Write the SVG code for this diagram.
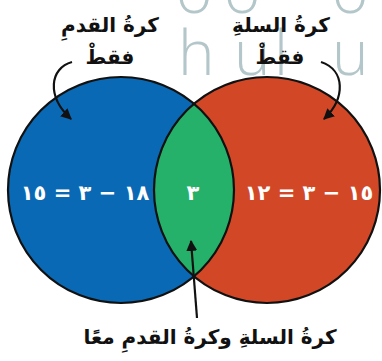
<svg xmlns="http://www.w3.org/2000/svg" width="382" height="361" viewBox="0 0 382 361">
<style>
.lbl{font-family:"DejaVu Sans",sans-serif;font-weight:bold;font-size:20px;fill:#111;text-anchor:middle;direction:rtl}
.num{font-family:"DejaVu Sans",sans-serif;font-weight:bold;font-size:21px;fill:#fff;text-anchor:middle;direction:rtl}
.wm{font-family:"Open Sans",sans-serif;font-weight:300;font-size:62px;fill:#b3c6c9}
.conn{fill:none;stroke:#111;stroke-width:2.2}
</style>
<defs>
<marker id="ah" viewBox="0 0 10 10" refX="9" refY="5" markerWidth="5" markerHeight="5" orient="auto">
<path d="M0,0 L10,5 L0,10 z" fill="#111"/>
</marker>
<clipPath id="clipL"><circle cx="121" cy="190" r="113"/></clipPath>
</defs>
<rect width="382" height="361" fill="#fff"/>
<g id="watermark">
<text class="wm" x="176" y="13">o</text>
<text class="wm" x="224" y="13">o</text>
<text class="wm" x="332" y="13">o</text>
<text class="wm" x="178" y="75">h</text>
<text class="wm" x="234" y="75">u</text>
<text class="wm" x="274" y="75">l</text>
<text class="wm" x="332" y="75">u</text>
</g>
<g id="basketball">
<circle cx="267" cy="190" r="113" fill="#d24827"/>
</g>
<g id="football">
<circle cx="121" cy="190" r="113" fill="#0a69b4"/>
</g>
<g id="both">
<circle cx="267" cy="190" r="113" fill="#25b169" clip-path="url(#clipL)"/>
</g>
<g id="outlines" fill="none" stroke="#111" stroke-width="2.2">
<circle cx="121" cy="190" r="113"/>
<circle cx="267" cy="190" r="113"/>
</g>
<g id="numbers">
<text class="num" x="85" y="200">١٨ − ٣ = ١٥</text>
<text class="num" x="193" y="200">٣</text>
<text class="num" x="309" y="200">١٥ − ٣ = ١٢</text>
</g>
<g id="label-football">
<text class="lbl" x="110" y="32">كرةُ القدمِ</text>
<text class="lbl" x="110" y="64">فقطْ</text>
</g>
<g id="label-basketball">
<text class="lbl" x="281" y="32">كرةُ السلةِ</text>
<text class="lbl" x="280" y="64">فقطْ</text>
</g>
<g id="label-both">
<text class="lbl" x="210" y="344">كرةُ السلةِ وكرةُ القدمِ معًا</text>
</g>
<g id="connectors">
<path class="conn" d="M72,62 C50,68 46,96 71,119" marker-end="url(#ah)"/>
<path class="conn" d="M321,62 C345,70 346,98 324,119" marker-end="url(#ah)"/>
<path class="conn" d="M197,318 L191,241" marker-end="url(#ah)"/>
</g>
</svg>
